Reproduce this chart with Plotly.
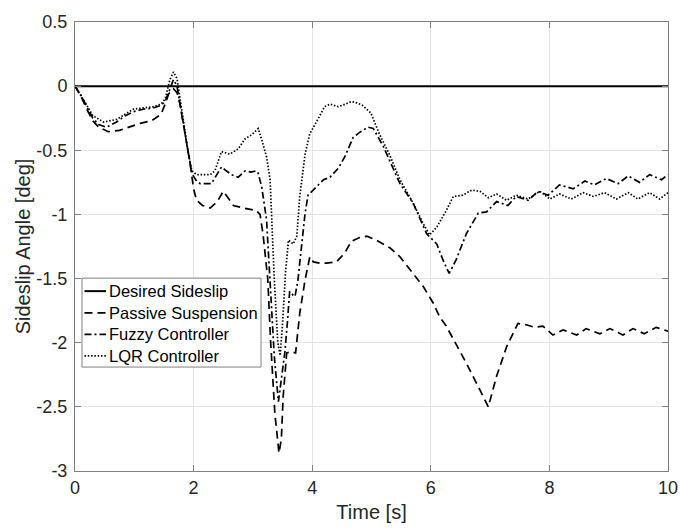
import plotly.graph_objects as go

# ---- data ----
desired_t = [0, 10]
desired_y = [0, 0]

passive_t = [0, 0.1, 0.2, 0.3, 0.4, 0.56, 0.75, 0.9, 1.1, 1.29, 1.45, 1.52, 1.58, 1.66, 1.72, 1.77,
             1.88, 1.94, 2.0, 2.05, 2.15, 2.28, 2.4, 2.5, 2.58, 2.67, 2.84, 2.95, 3.06, 3.12, 3.17,
             3.25, 3.3, 3.37, 3.44, 3.48, 3.51, 3.57, 3.65, 3.72, 3.79, 3.88, 3.96, 4.02, 4.13,
             4.24, 4.41, 4.55, 4.66, 4.8, 4.92, 5.08, 5.31, 5.48, 5.76, 5.87, 6.04, 6.15, 6.26,
             6.38, 6.6, 6.83, 6.97, 7.11, 7.28, 7.47, 7.61, 7.75, 7.89, 8.06, 8.23, 8.46, 8.62,
             8.85, 9.02, 9.24, 9.41, 9.6, 9.8, 10]
passive_y = [0, -0.08, -0.18, -0.27, -0.32, -0.355, -0.345, -0.32, -0.29, -0.27, -0.22, -0.14, -0.06,
             -0.02, -0.05, -0.14, -0.42, -0.6, -0.8, -0.89, -0.93, -0.95, -0.9, -0.82, -0.87, -0.93,
             -0.95, -0.96, -0.97, -1.0, -1.15, -1.5, -2.0, -2.55, -2.86, -2.75, -2.42, -2.08, -2.07,
             -2.08, -1.77, -1.51, -1.33, -1.37, -1.38, -1.38, -1.37, -1.3, -1.21, -1.18, -1.17, -1.2,
             -1.26, -1.33, -1.49, -1.56, -1.69, -1.8, -1.87, -1.97, -2.16, -2.37, -2.5, -2.26, -2.03,
             -1.85, -1.86, -1.88, -1.87, -1.94, -1.9, -1.94, -1.89, -1.93, -1.89, -1.94, -1.89, -1.93,
             -1.88, -1.91]

fuzzy_t = [0, 0.1, 0.2, 0.3, 0.4, 0.53, 0.7, 0.85, 0.98, 1.15, 1.32, 1.45, 1.52, 1.58, 1.66, 1.72,
           1.8, 1.91, 1.97, 2.05, 2.11, 2.3, 2.38, 2.47, 2.55, 2.64, 2.75, 2.87, 2.97, 3.06, 3.09,
           3.15, 3.23, 3.3, 3.36, 3.43, 3.47, 3.51, 3.54, 3.58, 3.62, 3.68, 3.71, 3.76, 3.82, 3.88,
           3.93, 4.02, 4.19, 4.3, 4.44, 4.55, 4.69, 4.8, 4.94, 5.03, 5.2, 5.48, 5.7, 5.93, 6.1, 6.21,
           6.31, 6.43, 6.6, 6.8, 6.94, 7.11, 7.3, 7.44, 7.64, 7.81, 7.98, 8.17, 8.4, 8.6, 8.76, 8.96,
           9.16, 9.33, 9.52, 9.69, 9.89, 10]
fuzzy_y = [0, -0.07, -0.16, -0.25, -0.3, -0.32, -0.28, -0.23, -0.2, -0.18, -0.17, -0.15, -0.12, -0.04,
           0.05, 0.0, -0.21, -0.53, -0.68, -0.74, -0.76, -0.76, -0.7, -0.63, -0.66, -0.69, -0.71,
           -0.66, -0.67, -0.66, -0.68, -0.79, -1.04, -1.6, -2.1, -2.46, -2.3, -2.17, -2.07, -1.85,
           -1.6, -1.63, -1.64, -1.51, -1.25, -0.99, -0.85, -0.81, -0.73, -0.71, -0.64, -0.55, -0.4,
           -0.36, -0.32, -0.33, -0.47, -0.76, -0.91, -1.15, -1.23, -1.36, -1.46, -1.35, -1.15, -0.99,
           -0.98, -0.9, -0.93, -0.86, -0.89, -0.82, -0.85, -0.77, -0.8, -0.74, -0.77, -0.72, -0.76,
           -0.7, -0.75, -0.69, -0.73, -0.69]

lqr_t = [0, 0.1, 0.2, 0.3, 0.48, 0.7, 0.85, 0.98, 1.15, 1.32, 1.45, 1.52, 1.6, 1.66, 1.72, 1.8, 1.91,
         1.97, 2.05, 2.28, 2.36, 2.47, 2.61, 2.75, 2.87, 2.98, 3.09, 3.15, 3.23, 3.29, 3.36, 3.42,
         3.46, 3.5, 3.55, 3.6, 3.68, 3.74, 3.79, 3.88, 3.96, 4.07, 4.21, 4.3, 4.44, 4.56, 4.66, 4.75,
         4.85, 4.99, 5.13, 5.31, 5.48, 5.7, 5.87, 5.98, 6.1, 6.26, 6.38, 6.54, 6.69, 6.83, 6.97,
         7.11, 7.28, 7.44, 7.64, 7.84, 8.01, 8.17, 8.37, 8.57, 8.74, 8.93, 9.13, 9.33, 9.49, 9.69,
         9.86, 10]
lqr_y = [0, -0.07, -0.15, -0.23, -0.28, -0.26, -0.22, -0.18, -0.17, -0.16, -0.14, -0.1, 0.05, 0.11,
         0.06, -0.2, -0.52, -0.66, -0.69, -0.69, -0.66, -0.51, -0.53, -0.49, -0.41, -0.38, -0.33,
         -0.42, -0.55, -0.73, -1.5, -2.0, -2.1, -1.85, -1.45, -1.2, -1.23, -1.17, -0.86, -0.53,
         -0.37, -0.28, -0.16, -0.14, -0.16, -0.14, -0.12, -0.13, -0.15, -0.21, -0.37, -0.54, -0.73,
         -0.91, -1.07, -1.16, -1.1, -0.97, -0.86, -0.85, -0.81, -0.82, -0.87, -0.84, -0.89, -0.85,
         -0.88, -0.82, -0.88, -0.84, -0.88, -0.83, -0.86, -0.83, -0.88, -0.83, -0.88, -0.83, -0.88,
         -0.83]

series_names = ["Desired Sideslip", "Passive Suspension", "Fuzzy Controller", "LQR Controller"]

x_tickvals = [0, 2, 4, 6, 8, 10]
x_ticktext = ["0", "2", "4", "6", "8", "10"]
y_tickvals = [-3, -2.5, -2, -1.5, -1, -0.5, 0, 0.5]
y_ticktext = ["-3", "-2.5", "-2", "-1.5", "-1", "-0.5", "0", "0.5"]

FONT = "Arial, Liberation Sans, Helvetica, sans-serif"
TXT = "#262626"
AXC = "#808080"

styles = [
    dict(color="black", width=2, dash="solid"),
    dict(color="black", width=1.7, dash="8px,5px"),
    dict(color="black", width=1.7, dash="7px,3px,2px,3px"),
    dict(color="black", width=1.7, dash="1.5px,1.8px"),
]
series = [(desired_t, desired_y), (passive_t, passive_y), (fuzzy_t, fuzzy_y), (lqr_t, lqr_y)]

fig = go.Figure()
for (tx, ty), name, st in zip(series, series_names, styles):
    fig.add_trace(go.Scatter(x=tx, y=ty, mode="lines", name=name, line=st, showlegend=False))

axis_common = dict(
    showline=True, linecolor=AXC, linewidth=1, mirror="ticks",
    ticks="inside", ticklen=6, tickcolor=AXC, tickwidth=1,
    showgrid=True, gridcolor="#e4e4e4", gridwidth=1, zeroline=False,
    tickfont=dict(family=FONT, size=18, color=TXT), automargin=False,
)

# ---- custom legend box (MATLAB-like, compact rows) ----
leg_x0, leg_x1, leg_y0, leg_y1 = 0.0118, 0.3137, 0.2315, 0.4296
sample_x0, sample_x1, text_x = 0.016, 0.0523, 0.0548
row_y = [0.4006, 0.3523, 0.3043, 0.2566]

shapes = [dict(type="rect", xref="paper", yref="paper", x0=leg_x0, x1=leg_x1, y0=leg_y0, y1=leg_y1,
               fillcolor="white", line=dict(color=AXC, width=1), layer="above")]
annotations = []
for name, st, ry in zip(series_names, styles, row_y):
    shapes.append(dict(type="line", xref="paper", yref="paper", x0=sample_x0, x1=sample_x1,
                       y0=ry, y1=ry, line=dict(color=st["color"], width=st["width"], dash=st["dash"]),
                       layer="above"))
    annotations.append(dict(xref="paper", yref="paper", x=text_x, y=ry, xanchor="left", yanchor="middle",
                            text=name, showarrow=False,
                            font=dict(family=FONT, size=16.5, color="black")))

fig.update_layout(
    width=681, height=530,
    margin=dict(l=75, r=13, t=22, b=59),
    paper_bgcolor="white", plot_bgcolor="white",
    font=dict(family=FONT, color=TXT),
    xaxis=dict(range=[0, 10], tickvals=x_tickvals, ticktext=x_ticktext,
               title=dict(text="Time [s]", font=dict(family=FONT, size=20, color=TXT), standoff=8),
               **axis_common),
    yaxis=dict(range=[-3, 0.5], tickvals=y_tickvals, ticktext=y_ticktext, ticklabelstandoff=3,
               title=dict(text="Sideslip Angle [deg]", font=dict(family=FONT, size=20, color=TXT), standoff=0),
               **axis_common),
    shapes=shapes,
    annotations=annotations,
    showlegend=False,
)

fig.write_html("out.html", config={"displayModeBar": False},
               post_script="document.body.style.margin='0';")
